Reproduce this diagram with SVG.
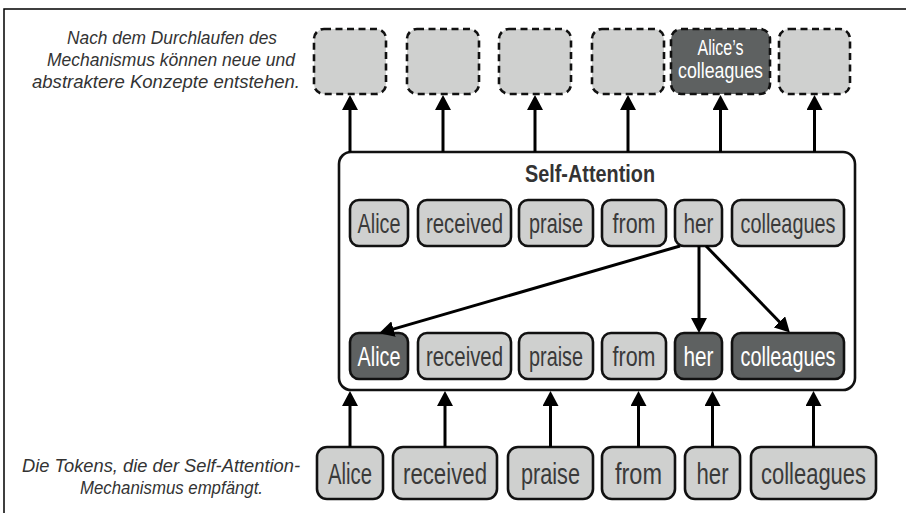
<svg xmlns="http://www.w3.org/2000/svg" width="906" height="513" viewBox="0 0 906 513">
<defs>
<style>
.t{font-family:"Liberation Sans",Arial,sans-serif;}
.lt{fill:#cfd0cf;stroke:#111;stroke-width:2.6;}
.dk{fill:#5e6161;stroke:#111;stroke-width:2.6;}
.ds{stroke-dasharray:7 4.5;}
.tl{fill:#3a3a3a;text-anchor:middle;}
.tw{fill:#ffffff;text-anchor:middle;}
.m{font-size:28px;}
.b{font-size:30px;}
.note{font-family:"Liberation Sans",Arial,sans-serif;font-style:italic;font-size:19px;fill:#333;text-anchor:end;}
.c{stroke:#000;stroke-width:3;fill:none;marker-end:url(#ah);}
</style>
<marker id="ah" viewBox="0 0 15 16" refX="3" refY="8" markerWidth="15" markerHeight="16" markerUnits="userSpaceOnUse" orient="auto">
<path d="M0,0 L15,8 L0,16 z" fill="#000"/>
</marker>
</defs>
<rect width="906" height="513" fill="#fff"/>
<g id="frame" fill="none" stroke="#000" stroke-width="1.5">
<path d="M4,513 V9 H906"/>
</g>
<g id="notes">
<text class="note" x="277" y="44" textLength="210" lengthAdjust="spacingAndGlyphs">Nach dem Durchlaufen des</text>
<text class="note" x="295" y="66" textLength="248" lengthAdjust="spacingAndGlyphs">Mechanismus können neue und</text>
<text class="note" x="300" y="88" textLength="268" lengthAdjust="spacingAndGlyphs">abstraktere Konzepte entstehen.</text>
<text class="note" x="300" y="472" textLength="278" lengthAdjust="spacingAndGlyphs">Die Tokens, die der Self-Attention-</text>
<text class="note" x="263" y="494" textLength="183" lengthAdjust="spacingAndGlyphs">Mechanismus empfängt.</text>
</g>
<g id="self-attention">
<rect x="339" y="152" width="516" height="238" rx="12" fill="#fff" stroke="#111" stroke-width="2.6"/>
<text class="t" x="590" y="182" font-size="24" font-weight="bold" fill="#333" text-anchor="middle" textLength="130" lengthAdjust="spacingAndGlyphs">Self-Attention</text>
</g>
<g id="out-1"><rect class="lt ds" x="314" y="29" width="72" height="65" rx="10"/></g>
<g id="out-2"><rect class="lt ds" x="407" y="29" width="72" height="65" rx="10"/></g>
<g id="out-3"><rect class="lt ds" x="499" y="29" width="72" height="65" rx="10"/></g>
<g id="out-4"><rect class="lt ds" x="592" y="29" width="72" height="65" rx="10"/></g>
<g id="out-5"><rect class="dk ds" x="671" y="29" width="99" height="65" rx="10"/>
<text class="t tw" x="720.5" y="55" font-size="22" textLength="46" lengthAdjust="spacingAndGlyphs">Alice’s</text>
<text class="t tw" x="720.5" y="78" font-size="22" textLength="85" lengthAdjust="spacingAndGlyphs">colleagues</text></g>
<g id="out-6"><rect class="lt ds" x="779" y="29" width="71" height="65" rx="10"/></g>
<g id="q-alice"><rect class="lt" x="350" y="200" width="58" height="46" rx="9"/><text class="t tl m" x="379" y="233" textLength="43" lengthAdjust="spacingAndGlyphs">Alice</text></g>
<g id="q-received"><rect class="lt" x="418" y="200" width="93" height="46" rx="9"/><text class="t tl m" x="464.5" y="233" textLength="77" lengthAdjust="spacingAndGlyphs">received</text></g>
<g id="q-praise"><rect class="lt" x="519" y="200" width="74" height="46" rx="9"/><text class="t tl m" x="556" y="233" textLength="54" lengthAdjust="spacingAndGlyphs">praise</text></g>
<g id="q-from"><rect class="lt" x="602" y="200" width="64" height="46" rx="9"/><text class="t tl m" x="634" y="233" textLength="43" lengthAdjust="spacingAndGlyphs">from</text></g>
<g id="q-her"><rect class="lt" x="675" y="200" width="47" height="46" rx="9"/><text class="t tl m" x="698.5" y="233" textLength="30" lengthAdjust="spacingAndGlyphs">her</text></g>
<g id="q-colleagues"><rect class="lt" x="732" y="200" width="112" height="46" rx="9"/><text class="t tl m" x="788" y="233" textLength="95" lengthAdjust="spacingAndGlyphs">colleagues</text></g>
<g id="k-alice"><rect class="dk" x="350" y="333" width="58" height="46" rx="9"/><text class="t tw m" x="379" y="366" textLength="43" lengthAdjust="spacingAndGlyphs">Alice</text></g>
<g id="k-received"><rect class="lt" x="418" y="333" width="93" height="46" rx="9"/><text class="t tl m" x="464.5" y="366" textLength="77" lengthAdjust="spacingAndGlyphs">received</text></g>
<g id="k-praise"><rect class="lt" x="519" y="333" width="74" height="46" rx="9"/><text class="t tl m" x="556" y="366" textLength="54" lengthAdjust="spacingAndGlyphs">praise</text></g>
<g id="k-from"><rect class="lt" x="602" y="333" width="64" height="46" rx="9"/><text class="t tl m" x="634" y="366" textLength="43" lengthAdjust="spacingAndGlyphs">from</text></g>
<g id="k-her"><rect class="dk" x="675" y="333" width="47" height="46" rx="9"/><text class="t tw m" x="698.5" y="366" textLength="30" lengthAdjust="spacingAndGlyphs">her</text></g>
<g id="k-colleagues"><rect class="dk" x="732" y="333" width="112" height="46" rx="9"/><text class="t tw m" x="788" y="366" textLength="95" lengthAdjust="spacingAndGlyphs">colleagues</text></g>
<g id="in-alice"><rect class="lt" x="317" y="447" width="66" height="52" rx="10"/><text class="t tl b" x="350" y="484" textLength="44" lengthAdjust="spacingAndGlyphs">Alice</text></g>
<g id="in-received"><rect class="lt" x="393" y="447" width="104" height="52" rx="10"/><text class="t tl b" x="445" y="484" textLength="84" lengthAdjust="spacingAndGlyphs">received</text></g>
<g id="in-praise"><rect class="lt" x="508" y="447" width="85" height="52" rx="10"/><text class="t tl b" x="550.5" y="484" textLength="59" lengthAdjust="spacingAndGlyphs">praise</text></g>
<g id="in-from"><rect class="lt" x="602" y="447" width="73" height="52" rx="10"/><text class="t tl b" x="638.5" y="484" textLength="47" lengthAdjust="spacingAndGlyphs">from</text></g>
<g id="in-her"><rect class="lt" x="685" y="447" width="55" height="52" rx="10"/><text class="t tl b" x="712.5" y="484" textLength="32" lengthAdjust="spacingAndGlyphs">her</text></g>
<g id="in-colleagues"><rect class="lt" x="751" y="447" width="125" height="52" rx="10"/><text class="t tl b" x="813.5" y="484" textLength="105" lengthAdjust="spacingAndGlyphs">colleagues</text></g>
<g id="connectors">
<line class="c" x1="350" y1="152" x2="350" y2="107"/>
<line class="c" x1="443" y1="152" x2="443" y2="107"/>
<line class="c" x1="535" y1="152" x2="535" y2="107"/>
<line class="c" x1="628" y1="152" x2="628" y2="107"/>
<line class="c" x1="720.5" y1="152" x2="720.5" y2="107"/>
<line class="c" x1="814.5" y1="152" x2="814.5" y2="107"/>
<line class="c" x1="350" y1="447" x2="350" y2="403"/>
<line class="c" x1="445" y1="447" x2="445" y2="403"/>
<line class="c" x1="550.5" y1="447" x2="550.5" y2="403"/>
<line class="c" x1="638.5" y1="447" x2="638.5" y2="403"/>
<line class="c" x1="712.5" y1="447" x2="712.5" y2="403"/>
<line class="c" x1="813.5" y1="447" x2="813.5" y2="403"/>
<line class="c" x1="680" y1="246" x2="390.6" y2="329.9"/>
<line class="c" x1="699" y1="246" x2="699" y2="321"/>
<line class="c" x1="706" y1="246" x2="781.5" y2="324"/>
</g>
</svg>
